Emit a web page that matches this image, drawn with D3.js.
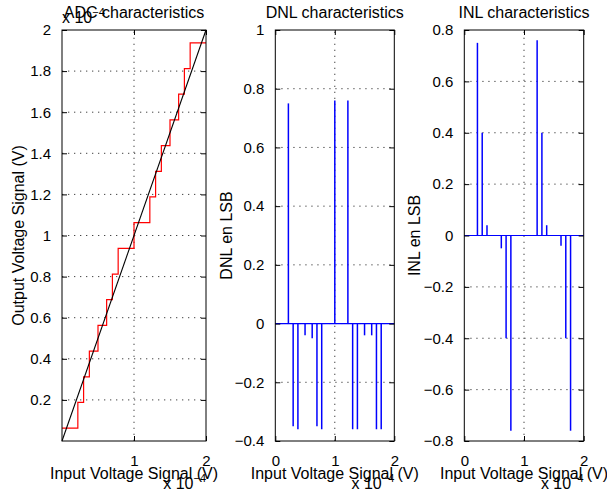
<!DOCTYPE html>
<html><head><meta charset="utf-8">
<script src="https://cdn.jsdelivr.net/npm/d3@7"></script>
<style>
body{margin:0;background:#fff}
svg{display:block}
text{font-family:"Liberation Sans",Arial,Helvetica,sans-serif;fill:#000}
</style>
</head><body>
<svg id="chart" width="607" height="492"></svg>
<script>
// ---------------- data (x in units of 1e-4 V) ----------------
const codeLevels = [0.0625,0.1875,0.3125,0.4375,0.5625,0.6875,0.8125,0.9375,
                    1.0625,1.1875,1.3125,1.4375,1.5625,1.6875,1.8125,1.9375];
const transitions = [0.22,0.30,0.38,0.50,0.62,0.70,0.78,1.00,1.22,1.30,1.38,1.50,1.62,1.70,1.78];
const idealX = [0, 2];
const idealY = [0, 2];
const dnlValues = [0.75,-0.35,-0.36,-0.04,-0.05,-0.35,-0.36,0.76,0.76,-0.36,-0.36,-0.04,-0.04,-0.36,-0.36];
const inlValues = [0.75,0.40,0.04,0,-0.05,-0.40,-0.76,0,0.76,0.40,0.04,0,-0.04,-0.40,-0.76];

const adcXTicks = [1, 2];
const adcYTicks = [0.2,0.4,0.6,0.8,1,1.2,1.4,1.6,1.8,2];
const dnlXTicks = [0, 1, 2];
const dnlYTicks = [-0.4,-0.2,0,0.2,0.4,0.6,0.8,1];
const inlXTicks = [0, 1, 2];
const inlYTicks = [-0.8,-0.6,-0.4,-0.2,0,0.2,0.4,0.6,0.8];

const titles = ["ADC characteristics","DNL characteristics","INL characteristics"];
const yLabels = ["Output Voltage Signal (V)","DNL en LSB","INL en LSB"];
const xLabel = "Input Voltage Signal (V)";

// ---------------- layout ----------------
const svg = d3.select("#chart");
const plotTop = 30, plotBottom = 441;
const fmt = d3.format(".1~f");

function panel(cfg) {
  const x = d3.scaleLinear().domain([0, 2]).range([cfg.x0, cfg.x1]);
  const y = d3.scaleLinear().domain(cfg.yDomain).range([plotBottom, plotTop]);
  const g = svg.append("g");

  // grid
  const grid = g.append("g").attr("stroke", "#444").attr("stroke-width", 1)
    .attr("stroke-dasharray", "1.3,4.7").attr("fill", "none");
  cfg.xTicks.filter(v => v > 0 && v < 2).forEach(v => {
    grid.append("line").attr("x1", x(v)).attr("x2", x(v)).attr("y1", plotBottom).attr("y2", plotTop);
  });
  cfg.yTicks.filter(v => v > cfg.yDomain[0] && v < cfg.yDomain[1]).forEach(v => {
    grid.append("line").attr("x1", cfg.x0).attr("x2", cfg.x1).attr("y1", y(v)).attr("y2", y(v));
  });

  cfg.draw(g, x, y);

  // axes with inward ticks
  const ax = (gen, tr, labels) => {
    const a = g.append("g").attr("transform", tr).call(gen);
    a.select(".domain").remove();
    a.selectAll("line").attr("stroke", "#000");
    if (!labels) a.selectAll("text").remove();
    else a.selectAll("text").attr("font-size", 15).attr("font-family", "Liberation Sans, Arial, sans-serif");
    return a;
  };
  ax(d3.axisLeft(y).tickValues(cfg.yTicks).tickFormat(fmt).tickSizeInner(-5).tickSizeOuter(0).tickPadding(11),
     `translate(${cfg.x0},0)`, true);
  ax(d3.axisRight(y).tickValues(cfg.yTicks).tickSizeInner(-5).tickSizeOuter(0),
     `translate(${cfg.x1},0)`, false);
  ax(d3.axisBottom(x).tickValues(cfg.xTicks).tickFormat(fmt).tickSizeInner(-5).tickSizeOuter(0).tickPadding(14),
     `translate(0,${plotBottom})`, true);
  ax(d3.axisTop(x).tickValues(cfg.xTicks).tickSizeInner(-5).tickSizeOuter(0),
     `translate(0,${plotTop})`, false);

  g.append("rect").attr("x", cfg.x0).attr("y", plotTop)
    .attr("width", cfg.x1 - cfg.x0).attr("height", plotBottom - plotTop)
    .attr("fill", "none").attr("stroke", "#000").attr("stroke-width", 1);

  const cx = (cfg.x0 + cfg.x1) / 2;
  g.append("text").attr("x", cx).attr("y", 18).attr("text-anchor", "middle")
    .attr("font-size", 16).text(cfg.title);
  g.append("text").attr("x", cx).attr("y", 479).attr("text-anchor", "middle")
    .attr("font-size", 16).text(xLabel);
  g.append("text").attr("transform", `translate(${cfg.yLabelX},${(plotTop + plotBottom) / 2}) rotate(-90)`)
    .attr("text-anchor", "middle").attr("font-size", 16).text(cfg.yLabel);

  // exponent label bottom right
  const ex = g.append("text").attr("x", cfg.x1).attr("y", 489).attr("text-anchor", "end").attr("font-size", 16);
  ex.append("tspan").text("x 10");
  ex.append("tspan").attr("font-size", 11).attr("dy", -7).text("\u22124");
  return {x, y};
}

// ADC characteristic panel
panel({
  x0: 62, x1: 206, yDomain: [0, 2], xTicks: adcXTicks, yTicks: adcYTicks,
  title: titles[0], yLabel: yLabels[0], yLabelX: 24,
  draw: (g, x, y) => {
    const pts = [[0, codeLevels[0]]].concat(transitions.map((t, i) => [t, codeLevels[i + 1]]))
      .concat([[2, codeLevels[codeLevels.length - 1]]]);
    g.append("path").datum(pts)
      .attr("d", d3.line().x(d => x(d[0])).y(d => y(d[1])).curve(d3.curveStepAfter))
      .attr("fill", "none").attr("stroke", "#ff0000").attr("stroke-width", 1.2);
    g.append("path").datum(idealX.map((v, i) => [v, idealY[i]]))
      .attr("d", d3.line().x(d => x(d[0])).y(d => y(d[1])))
      .attr("fill", "none").attr("stroke", "#000").attr("stroke-width", 1.1);
  }
});
// exponent label top-left of ADC panel
{
  const t = svg.append("text").attr("x", 62).attr("y", 23).attr("font-size", 16);
  t.append("tspan").text("x 10");
  t.append("tspan").attr("font-size", 11).attr("dy", -7).text("\u22124");
}

function stems(values) {
  return (g, x, y) => {
    g.append("line").attr("x1", x(0)).attr("x2", x(2)).attr("y1", y(0)).attr("y2", y(0))
      .attr("stroke", "#0000ff").attr("stroke-width", 1.2);
    g.selectAll(null).data(values.map((v, i) => [transitions[i], v])).enter().append("line")
      .attr("x1", d => x(d[0])).attr("x2", d => x(d[0]))
      .attr("y1", y(0)).attr("y2", d => y(d[1]))
      .attr("stroke", "#0000ff").attr("stroke-width", 1.5);
  };
}

panel({
  x0: 275.3, x1: 394.3, yDomain: [-0.4, 1], xTicks: dnlXTicks, yTicks: dnlYTicks,
  title: titles[1], yLabel: yLabels[1], yLabelX: 232, draw: stems(dnlValues)
});
panel({
  x0: 464.3, x1: 583.7, yDomain: [-0.8, 0.8], xTicks: inlXTicks, yTicks: inlYTicks,
  title: titles[2], yLabel: yLabels[2], yLabelX: 420, draw: stems(inlValues)
});
</script>
</body></html>
